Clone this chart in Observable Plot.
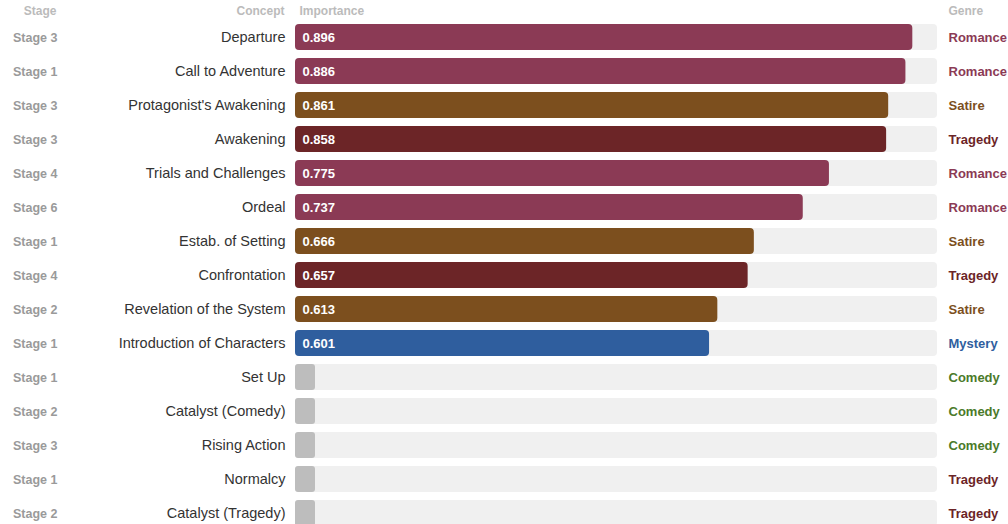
<!DOCTYPE html>
<html>
<head>
<meta charset="utf-8">
<script src="https://cdn.jsdelivr.net/npm/d3@7"></script>
<script src="https://cdn.jsdelivr.net/npm/@observablehq/plot@0.6"></script>
<style>
  html, body { margin: 0; padding: 0; background: #fff; }
  #chart { width: 1008px; height: 524px; overflow: hidden; }
  #chart svg { overflow: hidden; }
</style>
</head>
<body>
<div id="chart"></div>
<script>
const concepts = ["Departure","Call to Adventure","Protagonist's Awakening","Awakening","Trials and Challenges","Ordeal","Estab. of Setting","Confrontation","Revelation of the System","Introduction of Characters","Set Up","Catalyst (Comedy)","Rising Action","Normalcy","Catalyst (Tragedy)"];
const stages = ["Stage 3","Stage 1","Stage 3","Stage 3","Stage 4","Stage 6","Stage 1","Stage 4","Stage 2","Stage 1","Stage 1","Stage 2","Stage 3","Stage 1","Stage 2"];
const importance = [0.896,0.886,0.861,0.858,0.775,0.737,0.666,0.657,0.613,0.601,null,null,null,null,null];
const genres = ["Romance","Romance","Satire","Tragedy","Romance","Romance","Satire","Tragedy","Satire","Mystery","Comedy","Comedy","Comedy","Tragedy","Tragedy"];
const genreNames = ["Romance","Satire","Tragedy","Mystery","Comedy"];
const genreColors = ["#8b3a55","#7c4f1e","#6c2527","#2f5e9e","#4b7a2a"];
const headers = ["Stage","Concept","Importance","Genre"];

const rows = concepts.map((c, i) => ({concept: c, stage: stages[i], value: importance[i], genre: genres[i]}));
const withValue = rows.filter(d => d.value != null);
const noValue = rows.filter(d => d.value == null);
const xMax = d3.max(importance) * 1.04;
const color = g => genreColors[genreNames.indexOf(g)];

const font = "'Liberation Sans', Arial, Helvetica, sans-serif";

const chart = Plot.plot({
  width: 1008,
  height: 524,
  margin: 0,
  style: {fontFamily: font, background: "#fff"},
  x: {domain: [0, xMax], range: [295, 937], axis: null},
  y: {domain: concepts, range: [20, 530], paddingInner: 0.235, paddingOuter: 0.1175, axis: null},
  marks: [
    Plot.barX(rows, {x1: 0, x2: xMax, y: "concept", fill: "#f0f0f0", rx: 4}),
    Plot.barX(noValue, {x1: 0, x2: 0, y: "concept", fill: "#bdbdbd", rx: 3, insetRight: -20}),
    Plot.barX(withValue, {x1: 0, x2: "value", y: "concept", fill: d => color(d.genre), rx: 4}),
    Plot.text(withValue, {x: 0, y: "concept", text: d => d.value.toFixed(3), textAnchor: "start", dx: 7, fill: "white", fontWeight: "bold", fontSize: 13}),
    Plot.text(rows, {x: 0, y: "concept", text: "concept", textAnchor: "end", dx: -10, fill: "#333", fontSize: 14.5}),
    Plot.text(rows, {y: "concept", text: "stage", frameAnchor: "left", textAnchor: "end", dx: 57, fill: "#9a9a9a", fontWeight: "bold", fontSize: 12.5}),
    Plot.text(rows, {y: "concept", text: "genre", frameAnchor: "left", textAnchor: "start", dx: 948, fill: d => color(d.genre), fontWeight: "bold", fontSize: 13}),
    Plot.text([headers[0]], {frameAnchor: "top-left", textAnchor: "end", dx: 56, dy: 6, text: d => d, fill: "#bbb", fontWeight: "bold", fontSize: 12}),
    Plot.text([headers[1]], {frameAnchor: "top-left", textAnchor: "end", dx: 284, dy: 6, text: d => d, fill: "#bbb", fontWeight: "bold", fontSize: 12}),
    Plot.text([headers[2]], {frameAnchor: "top-left", textAnchor: "start", dx: 299, dy: 6, text: d => d, fill: "#bbb", fontWeight: "bold", fontSize: 12}),
    Plot.text([headers[3]], {frameAnchor: "top-left", textAnchor: "start", dx: 948, dy: 6, text: d => d, fill: "#bbb", fontWeight: "bold", fontSize: 12})
  ]
});
document.getElementById("chart").appendChild(chart);
</script>
</body>
</html>
